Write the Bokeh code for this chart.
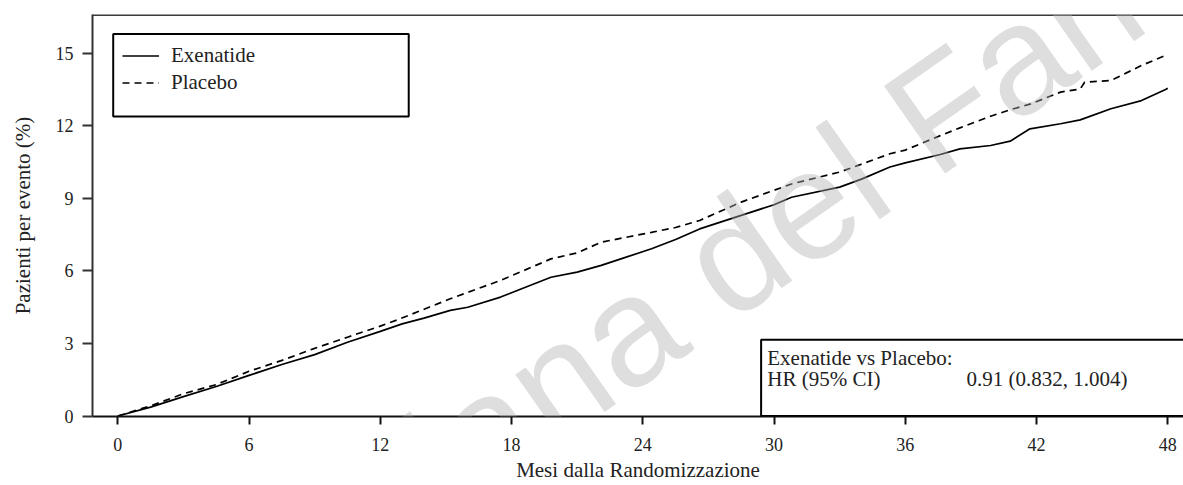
from bokeh.plotting import figure
from bokeh.models import (Range1d, FixedTicker, Legend, LegendItem, BoxAnnotation,
                          Label, Span)
from bokeh.embed import file_html
from bokeh.resources import INLINE

# ---- data ----
exe_months = [0, 1.5, 3, 4.5, 6, 7.5, 9, 10.5, 12, 13, 14, 15.2, 16, 17.5, 18, 19.8, 21,
              22.1, 23, 24.4, 25.5, 26.6, 28.5, 30, 30.8, 33, 34, 35.3, 36, 37.6, 38.5,
              39.9, 40.8, 41.7, 43.1, 44, 45.4, 46.8, 47.9, 48]
exe_pct = [0, 0.37, 0.8, 1.22, 1.68, 2.13, 2.54, 3.05, 3.5, 3.81, 4.05, 4.37, 4.5, 4.92,
           5.1, 5.74, 5.95, 6.23, 6.5, 6.92, 7.3, 7.74, 8.3, 8.74, 9.05, 9.47, 9.8, 10.3,
           10.47, 10.82, 11.05, 11.19, 11.37, 11.88, 12.09, 12.25, 12.71, 13.05, 13.51, 13.56]

pla_months = [0, 1.5, 3, 4.5, 6, 7.5, 9, 10.5, 12, 12.9, 15.2, 17.5, 18, 19.8, 21, 22.1,
              24.4, 25.5, 26.6, 28.5, 30.8, 33, 35.3, 36, 37.6, 38.5, 39.9, 40.8, 41.7,
              43.1, 44, 44.2, 45.4, 46.8, 47.9, 48]
pla_pct = [0, 0.42, 0.92, 1.3, 1.85, 2.3, 2.8, 3.26, 3.72, 4.02, 4.85, 5.61, 5.8, 6.5,
           6.75, 7.19, 7.6, 7.8, 8.09, 8.85, 9.6, 10.09, 10.85, 11.0, 11.6, 11.92, 12.4,
           12.67, 12.9, 13.4, 13.53, 13.81, 13.88, 14.5, 14.92, 14.98]

series_names = ["Exenatide", "Placebo"]
x_ticks = [0, 6, 12, 18, 24, 30, 36, 42, 48]
y_ticks = [0, 3, 6, 9, 12, 15]
hr_title = "Exenatide vs Placebo:"
hr_label = "HR (95% CI)"
hr_value = "0.91 (0.832, 1.004)"
x_title = "Mesi dalla Randomizzazione"
y_title = "Pazienti per evento (%)"
watermark = "Agenzia Italiana del Farmaco"

SERIF = "Liberation Serif"

p = figure(width=1183, height=485, output_backend="svg", toolbar_location=None,
           x_range=Range1d(-1.157, 48.72), y_range=Range1d(-0.02, 16.61),
           min_border_left=92, min_border_right=0, min_border_top=14,
           min_border_bottom=69)
p.outline_line_color = None
p.grid.visible = False
p.background_fill_color = "white"
p.border_fill_color = "white"

# axes
p.xaxis.ticker = FixedTicker(ticks=x_ticks)
p.yaxis.ticker = FixedTicker(ticks=y_ticks)
for ax in (p.xaxis[0], p.yaxis[0]):
    ax.minor_tick_line_color = None
    ax.major_tick_in = 0
    ax.major_tick_line_width = 2
    ax.axis_line_width = 2
    ax.major_label_text_font = SERIF
    ax.major_label_text_font_size = "18px"
    ax.major_label_text_color = "#222222"
    ax.axis_label_text_font = SERIF
    ax.axis_label_text_font_style = "normal"
    ax.axis_label_text_font_size = "21px"
    ax.axis_label_text_color = "#222222"
p.xaxis.major_tick_out = 8
p.yaxis.major_tick_out = 10
p.xaxis.axis_line_color = "#111111"
p.xaxis.major_tick_line_color = "#111111"
p.yaxis.axis_line_color = "#333333"
p.yaxis.major_tick_line_color = "#333333"
p.xaxis.major_label_standoff = 13
p.yaxis.major_label_standoff = 9
p.xaxis.axis_label = x_title
p.yaxis.axis_label = y_title
p.xaxis.axis_label_standoff = 4
p.yaxis.axis_label_standoff = 18

# top frame line
p.add_layout(Span(location=16.61, dimension="width", line_color="#3a3a3a", line_width=3))

# curves
r_exe = p.line(exe_months, exe_pct, line_color="black", line_width=1.7)
r_pla = p.line(pla_months, pla_pct, line_color="black", line_width=1.7, line_dash="7 5")

# legend box + legend
p.add_layout(BoxAnnotation(left=-0.21, right=13.30, top=15.80, bottom=12.39,
                           fill_color=None, line_color="black", line_alpha=1.0,
                           line_width=2))
legend = Legend(items=[LegendItem(label=series_names[0], renderers=[r_exe]),
                       LegendItem(label=series_names[1], renderers=[r_pla])],
                location=(30, 320), padding=4, spacing=0, glyph_width=37,
                glyph_height=27, label_height=27, label_standoff=12,
                border_line_color=None, background_fill_alpha=0,
                label_text_font=SERIF, label_text_font_size="21px",
                label_text_color="#222222")
p.add_layout(legend)

# HR box
p.add_layout(BoxAnnotation(left=29.41, right=52, top=3.15, bottom=0,
                           fill_color=None, line_color="black", line_alpha=1.0,
                           line_width=2))
for txt, xx, yy, al in [(hr_title, 29.69, 2.41, "left"), (hr_label, 29.69, 1.54, "left"),
                        (hr_value, 42.48, 1.54, "center")]:
    p.add_layout(Label(x=xx, y=yy, text=txt, text_font=SERIF, text_font_size="21px",
                       text_color="#222222", text_baseline="alphabetic", text_align=al))

# watermark
p.add_layout(Label(x=-16.33, y=-21.58, text=watermark, angle=35, angle_units="deg",
                   text_font="Liberation Sans", text_font_size="155px",
                   text_color="#b0b0b0", text_alpha=0.42, text_baseline="alphabetic",
                   text_align="left"))

open("out.html", "w").write(file_html(p, INLINE))
